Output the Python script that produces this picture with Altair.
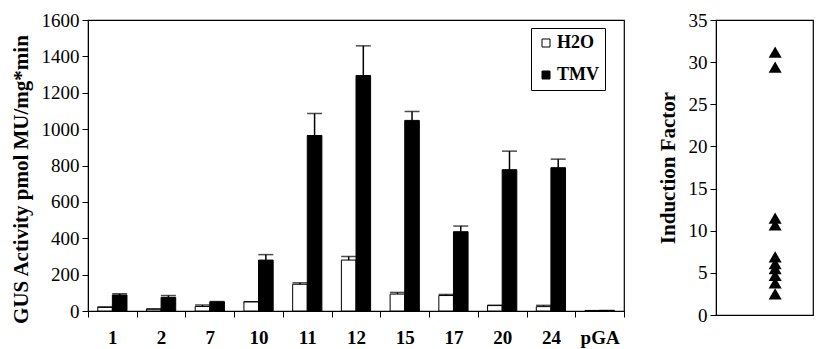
import altair as alt
import pandas as pd

categories = ["1", "2", "7", "10", "11", "12", "15", "17", "20", "24", "pGA"]
h2o_values = [20, 10, 25, 51, 147, 280, 93, 85, 31, 24, 2]
h2o_errors = [3, 2, 8, 0, 8, 19, 9, 6, 0, 7, 0]
tmv_values = [88, 75, 50, 280, 965, 1295, 1048, 436, 777, 788, 3]
tmv_errors = [7, 10, 2, 30, 121, 163, 49, 31, 102, 47, 0]
series = ["H2O", "TMV"]
y_ticks = [0, 200, 400, 600, 800, 1000, 1200, 1400, 1600]

induction_factors = [31.2, 29.4, 11.5, 10.7, 6.9, 6.1, 5.5, 4.7, 3.8, 2.5]
factor_ticks = [0, 5, 10, 15, 20, 25, 30, 35]

rows = []
for i, c in enumerate(categories):
    rows.append({"line": c, "treat": "H2O", "value": h2o_values[i], "top": h2o_values[i] + h2o_errors[i]})
    rows.append({"line": c, "treat": "TMV", "value": tmv_values[i], "top": tmv_values[i] + tmv_errors[i]})
df = pd.DataFrame(rows)

FONT = "Liberation Serif"

y_axis = alt.Axis(values=y_ticks, grid=False, format="d",
                  labelOverlap=False, labelFont=FONT, titleFont=FONT,
                  labelFontSize=19, titleFontSize=21, titleFontWeight="bold",
                  tickSize=6, labelPadding=3, titlePadding=10, titleY=159,
                  domainColor="black", tickColor="black",
                  labelColor="black", titleColor="black")
Y_TITLE = "GUS Activity pmol MU/mg*min"


def make_y(field):
    return alt.Y(field, type="quantitative", scale=alt.Scale(domain=[0, 1600]),
                 title=Y_TITLE, axis=y_axis)


def make_x():
    return alt.X("line:N", sort=categories, title=None,
                 scale=alt.Scale(paddingInner=0, paddingOuter=0),
                 axis=alt.Axis(labelAngle=0, labelFontWeight="bold", labelFontSize=19,
                               labelFont=FONT, tickBand="extent", tickSize=6, labelPadding=11,
                               domainColor="black", tickColor="black", labelColor="black"))


xoff = alt.XOffset("treat:N", sort=series,
                   scale=alt.Scale(paddingInner=0, paddingOuter=0.667))

bars = alt.Chart(df).mark_bar(stroke="black", strokeWidth=1).encode(
    x=make_x(), xOffset=xoff, y=make_y("value"),
    fill=alt.Fill("treat:N", sort=series,
                  scale=alt.Scale(domain=series, range=["white", "black"]),
                  legend=alt.Legend(title=None, orient="none", legendX=443, legendY=8,
                                    symbolType="square", symbolSize=64,
                                    symbolStrokeColor="black", symbolStrokeWidth=1,
                                    labelFont=FONT,
                                    labelFontSize=18, labelFontWeight="bold",
                                    labelColor="black", rowPadding=14, padding=6,
                                    strokeColor="black", fillColor="white",
                                    labelOffset=2)),
)
err_rule = alt.Chart(df).mark_rule(color="black", strokeWidth=1.5).encode(
    x=make_x(), xOffset=xoff,
    y=make_y("value"), y2="top:Q",
)
err_cap = alt.Chart(df).mark_tick(color="black", thickness=1.5, size=15).encode(
    x=make_x(), xOffset=xoff,
    y=make_y("top"),
)
left = alt.layer(bars, err_rule, err_cap).properties(width=536, height=291)

# all plants belong to one sample group (group 1)
df2 = pd.DataFrame({"group": [1] * len(induction_factors), "factor": induction_factors})
right = alt.Chart(df2).mark_point(shape="triangle-up", filled=True, color="black",
                                  size=170, opacity=1).encode(
    x=alt.X("group:Q", title=None, axis=None, scale=alt.Scale(domain=[0, 1.64], nice=False, zero=False)),
    y=alt.Y("factor:Q", scale=alt.Scale(domain=[0, 35]), title="Induction Factor",
            axis=alt.Axis(values=factor_ticks, grid=False, format="d",
                          labelOverlap=False, labelFont=FONT, titleFont=FONT,
                          labelFontSize=19, titleFontSize=21, titleFontWeight="bold",
                          tickSize=6, labelPadding=3, titlePadding=10,
                          domainColor="black", tickColor="black",
                          labelColor="black", titleColor="black")),
).properties(width=97, height=295)

chart = alt.hconcat(left, right, spacing=30).configure(
    font=FONT, padding={"left": 1, "top": 2, "right": 0, "bottom": 0}
).configure_view(stroke="black", strokeWidth=1.2).configure_axis(
    labelFont=FONT, titleFont=FONT
).configure_legend(labelFont=FONT)

chart.save("out.html", embed_options={"renderer": "svg", "actions": False})
